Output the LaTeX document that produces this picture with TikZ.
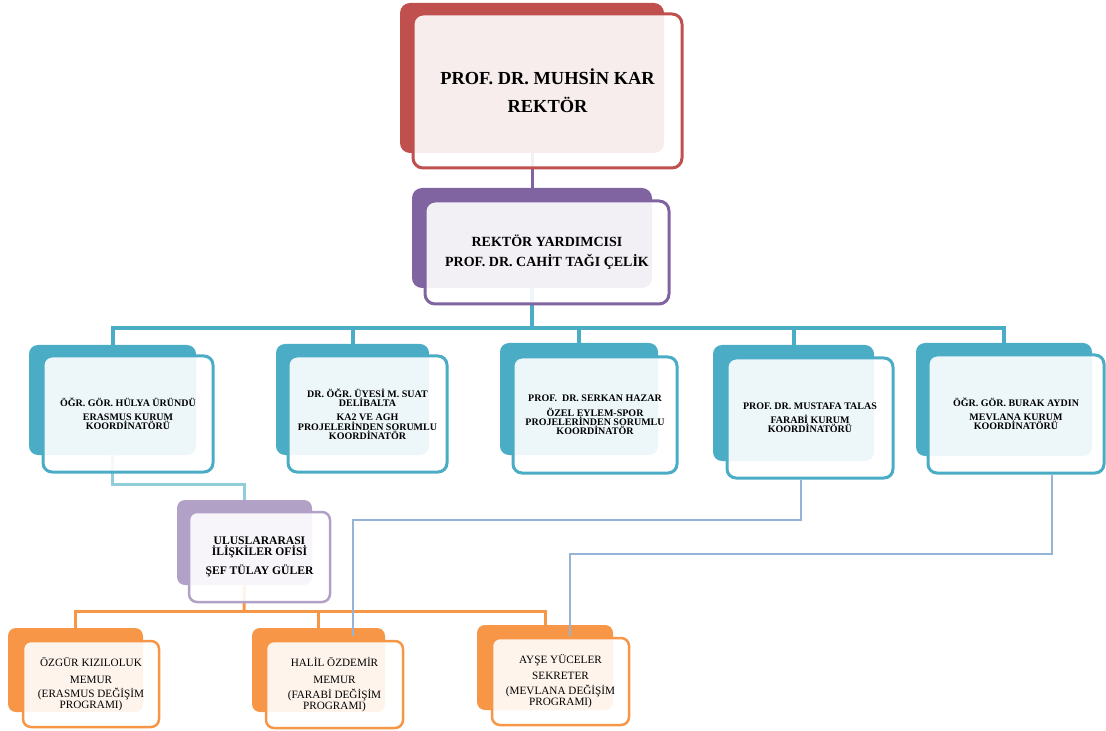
\documentclass[tikz,border=0pt]{standalone}
\usepackage{fontspec}
\setmainfont{Liberation Serif}
\usetikzlibrary{calc}
\definecolor{cRed}{HTML}{C0504D}
\definecolor{cPurple}{HTML}{8064A2}
\definecolor{cBlue}{HTML}{4BACC6}
\definecolor{cLav}{HTML}{B2A1C7}
\definecolor{cOrange}{HTML}{F79646}
\definecolor{cLightBlue}{HTML}{92CDDC}
\definecolor{cGrayBlue}{HTML}{95B3D7}
\pgfdeclarelayer{bg}
\pgfsetlayers{bg,main}
\tikzset{
  backbox/.style={fill=#1, draw=none, rounded corners=4.5pt, inner sep=0pt},
  frontbox/.style={fill=white, fill opacity=0.9, text opacity=1, draw=#1, draw opacity=1,
     line width=1.5pt, rounded corners=4.5pt, inner sep=0pt, align=center, text=black},
  sz/.style n args={2}{minimum width=#1*0.5pt, minimum height=#2*0.5pt},
  bigtxt/.style={font=\fontsize{9.2}{14}\selectfont\bfseries},
  midtxt/.style={font=\fontsize{7}{10}\selectfont\bfseries},
  smalltxt/.style={font=\fontsize{5}{4.6}\selectfont\bfseries},
  lavtxt/.style={font=\fontsize{5.8}{5.5}\selectfont\bfseries},
  ortxt/.style={font=\fontsize{5.6}{5.6}\selectfont},
  conn/.style={draw=#1, line width=1.75pt},
  thinconn/.style={draw=cGrayBlue, line width=1pt},
}
\begin{document}
\begin{tikzpicture}[x=0.5pt,y=-0.5pt]
\useasboundingbox (0,0) rectangle (1106,731);

% Top box
\node[backbox=cRed, sz={264}{150}, rounded corners=5pt] (topB) at (532,78) {};
\node[frontbox=cRed, sz={269}{154}, rounded corners=5pt, bigtxt] (topF) at (547.5,91)
  {PROF. DR. MUHSİN KAR\\REKTÖR};

% Vice rector
\node[backbox=cPurple, sz={240}{100}, rounded corners=5pt] (purB) at (532,238) {};
\node[frontbox=cPurple, sz={244}{103}, rounded corners=5pt, midtxt] (purF) at (547,252.5)
  {REKTÖR YARDIMCISI\\PROF. DR. CAHİT TAĞI ÇELİK};

% Blue boxes
\node[backbox=cBlue, sz={167}{110}] (b1B) at (112.5,400) {};
\node[frontbox=cBlue, sz={170}{116}, smalltxt] (b1F) at (128,414)
  {ÖĞR. GÖR. HÜLYA ÜRÜNDÜ\\[2.4pt]ERASMUS KURUM\\KOORDİNATÖRÜ};

\node[backbox=cBlue, sz={153}{111}] (b2B) at (352.5,399.5) {};
\node[frontbox=cBlue, sz={159}{116}, smalltxt] (b2F) at (367.5,414)
  {DR. ÖĞR. ÜYESİ M. SUAT\\DELİBALTA\\[2.6pt]KA2 VE AGH\\PROJELERİNDEN SORUMLU\\KOORDİNATÖR};

\node[backbox=cBlue, sz={158}{112}] (b3B) at (579,399) {};
\node[frontbox=cBlue, sz={164}{116}, smalltxt] (b3F) at (595,415)
  {PROF.~~DR. SERKAN HAZAR\\[2.6pt]ÖZEL EYLEM-SPOR\\PROJELERİNDEN SORUMLU\\KOORDİNATÖR};

\node[backbox=cBlue, sz={161}{116}] (b4B) at (793.5,403) {};
\node[frontbox=cBlue, sz={166}{120}, smalltxt] (b4F) at (810,418)
  {PROF. DR. MUSTAFA TALAS\\[2.4pt]FARABİ KURUM\\KOORDİNATÖRÜ};

\node[backbox=cBlue, sz={176}{113}] (b5B) at (1004,399.5) {};
\node[frontbox=cBlue, sz={176}{118}, smalltxt] (b5F) at (1016,414)
  {ÖĞR. GÖR. BURAK AYDIN\\[2.4pt]MEVLANA KURUM\\KOORDİNATÖRÜ};

% International office
\node[backbox=cLav, sz={135}{85}, rounded corners=4pt] (lavB) at (244.5,542.5) {};
\node[frontbox=cLav, sz={141}{90}, rounded corners=4pt, line width=1.25pt, lavtxt] (lavF) at (259.5,557)
  {ULUSLARARASI\\İLİŞKİLER OFİSİ\\[2.5pt]ŞEF TÜLAY GÜLER};

% Orange boxes
\node[backbox=cOrange, sz={135}{84}, rounded corners=4pt] (oAB) at (75.5,670) {};
\node[frontbox=cOrange, sz={136}{86}, rounded corners=4pt, line width=1.25pt, ortxt] (oAF) at (91,684)
  {ÖZGÜR KIZILOLUK\\[2.9pt]MEMUR\\[1.4pt](ERASMUS DEĞİŞİM\\PROGRAMI)};

\node[backbox=cOrange, sz={133}{84}, rounded corners=4pt] (oBB) at (318.5,670) {};
\node[frontbox=cOrange, sz={137}{87}, rounded corners=4pt, line width=1.25pt, ortxt] (oBF) at (334.5,684.5)
  {HALİL ÖZDEMİR\\[2.9pt]MEMUR\\[1.9pt](FARABİ DEĞİŞİM\\PROGRAMI)};

\node[backbox=cOrange, sz={136}{85}, rounded corners=4pt] (oCB) at (545,667.5) {};
\node[frontbox=cOrange, sz={137}{87}, rounded corners=4pt, line width=1.25pt, ortxt] (oCF) at (560.5,681.5)
  {AYŞE YÜCELER\\[2.4pt]SEKRETER\\[1.9pt](MEVLANA DEĞİŞİM\\PROGRAMI)};

\coordinate (bus) at (532,328);
\coordinate (obus) at (244,611);

\begin{pgfonlayer}{bg}
  \draw[conn=cPurple, line width=1.5pt] (topB.south) -- (purB.north);
  \draw[conn=cBlue, line width=2pt] (purB.south) -- (bus);
  \draw[conn=cBlue, line width=2pt] (bus) -| (b1B.north);
  \draw[conn=cBlue, line width=2pt] (bus) -| (b2B.north);
  \draw[conn=cBlue, line width=2pt] (bus) -| (b3B.north);
  \draw[conn=cBlue, line width=2pt] (bus) -| (b4B.north);
  \draw[conn=cBlue, line width=2pt] (bus) -| (b5B.north);
  \draw[conn=cLightBlue] (b1B.south) |- ($(lavB.north)+(0,-15)$) -- (lavB.north);
  \draw[conn=cOrange, line width=1.5pt] (lavB.south) -- (obus);
  \draw[conn=cOrange, line width=1.5pt] (obus) -| (oAB.north);
  \draw[conn=cOrange, line width=1.5pt] (obus) -| (oBB.north);
  \draw[conn=cOrange, line width=1.5pt] (obus) -| (oCB.north);
\end{pgfonlayer}

\draw[thinconn] ([xshift=-4.5pt]b4F.south) -- ++(0,40) -| ([xshift=17.25pt,yshift=-4pt]oBB.north);
\draw[thinconn] ([xshift=18pt]b5F.south) -- ++(0,79) -| ([xshift=12.5pt,yshift=-5.5pt]oCB.north);
\end{tikzpicture}
\end{document}
